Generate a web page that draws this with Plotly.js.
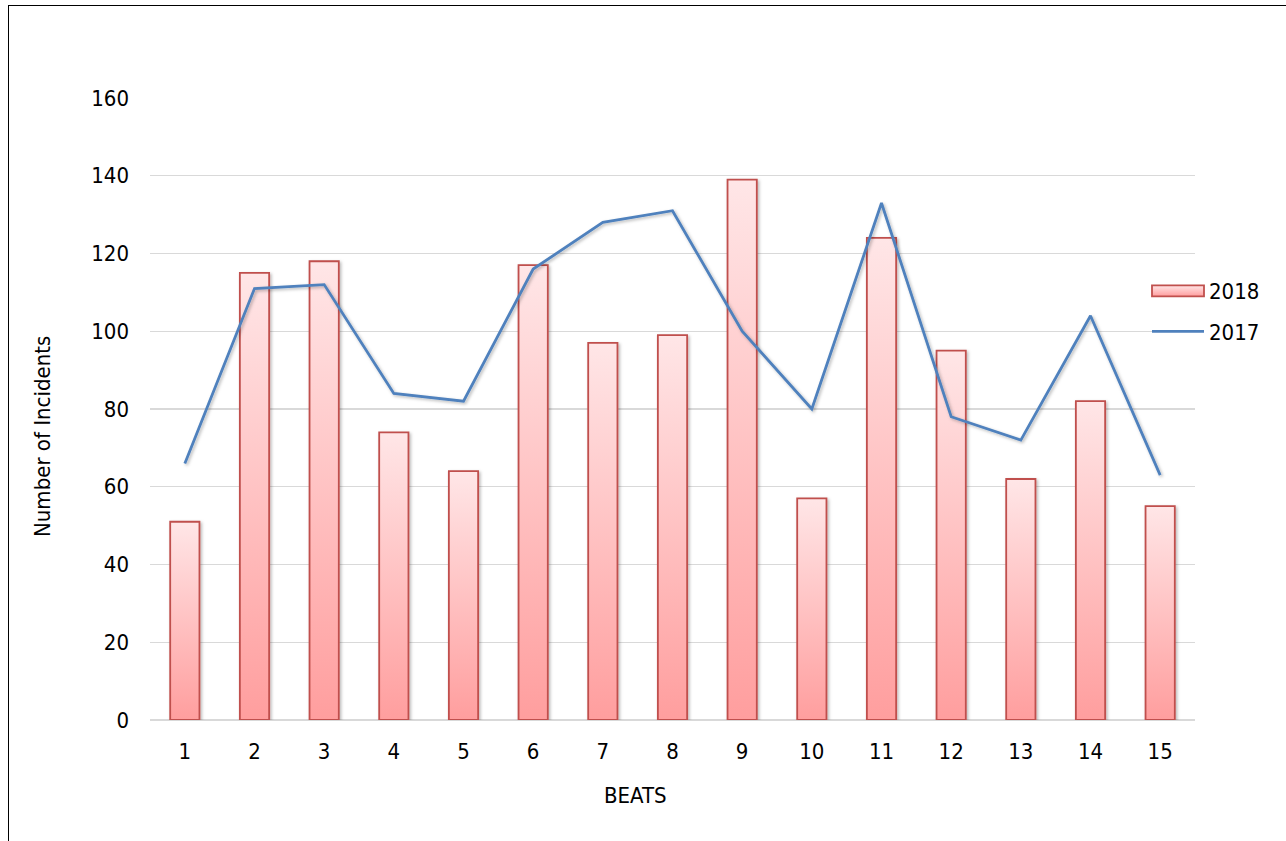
<!DOCTYPE html>
<html>
<head>
<meta charset="utf-8">
<script src="https://cdn.plot.ly/plotly-3.0.1.min.js"></script>
<style>
  html, body { margin: 0; padding: 0; background: #fff; overflow: hidden; }
  #wrap { position: relative; width: 1286px; height: 841px; }
  #chart { position: absolute; left: 0; top: 0; width: 1286px; height: 841px; }
  #frame { position: absolute; left: 8px; top: 5px; width: 1400px; height: 900px;
           border-left: 1.6px solid #000; border-top: 1.6px solid #000; pointer-events: none; }
</style>
</head>
<body>
<div id="wrap">
  <div id="chart"></div>
  <div id="frame"></div>
</div>
<script>
var beats = ['1','2','3','4','5','6','7','8','9','10','11','12','13','14','15'];
var incidents2018 = [51, 115, 118, 74, 64, 117, 97, 99, 139, 57, 124, 95, 62, 82, 55];
var incidents2017 = [66, 111, 112, 84, 82, 116, 128, 131, 100, 80, 133, 78, 72, 104, 63];
var yTicks = [0, 20, 40, 60, 80, 100, 120, 140, 160];

var FONT = '"DejaVu Sans Condensed", "DejaVu Sans", sans-serif';

var data = [
  {
    type: 'bar', name: '2018', x: beats, y: incidents2018,
    marker: { color: '#FFC4C4', line: { color: '#C0504D', width: 1.8 } },
    legendgroup: 'a', hoverinfo: 'none'
  },
  {
    type: 'scatter', mode: 'lines', name: '2017', x: beats, y: incidents2017,
    line: { color: '#4F81BD', width: 2.8 },
    legendgroup: 'b', hoverinfo: 'none'
  }
];

var PL = 150, PR = 1195, PT = 98, PB = 720;
function px2x(p) { return (p - PL) / (PR - PL); }
function px2y(p) { return (PB - p) / (PB - PT); }

var layout = {
  width: 1286, height: 841,
  margin: { l: PL, r: 1286 - PR, t: PT, b: 841 - PB, pad: 0 },
  paper_bgcolor: '#fff', plot_bgcolor: '#fff',
  font: { family: FONT, size: 22, color: '#000' },
  bargap: 0.58,
  showlegend: true,
  legend: {
    x: px2x(1147), xanchor: 'left', y: px2y(270), yanchor: 'top',
    bgcolor: 'rgba(0,0,0,0)', borderwidth: 0,
    font: { family: FONT, size: 22, color: '#000' },
    itemwidth: 52, tracegroupgap: 9, traceorder: 'grouped'
  },
  xaxis: {
    type: 'category', showgrid: false, showline: false, zeroline: false,
    ticks: '', ticklabelstandoff: 16,
    tickfont: { family: FONT, size: 22, color: '#000' }
  },
  yaxis: {
    range: [0, 160], tickvals: yTicks, ticktext: yTicks.map(String),
    showgrid: true, gridcolor: '#D9D9D9', gridwidth: 1.4,
    zeroline: true, zerolinecolor: '#D9D9D9', zerolinewidth: 1.4,
    showline: false, ticks: '', ticklabelstandoff: 20,
    tickfont: { family: FONT, size: 22, color: '#000' }
  },
  annotations: [
    { text: 'Number of Incidents', xref: 'paper', yref: 'paper',
      x: px2x(42), y: px2y(437), xanchor: 'center', yanchor: 'middle',
      textangle: -90, showarrow: false, font: { family: FONT, size: 22, color: '#000' } },
    { text: 'BEATS', xref: 'paper', yref: 'paper',
      x: px2x(635.5), y: px2y(795), xanchor: 'center', yanchor: 'middle',
      showarrow: false, font: { family: FONT, size: 22, color: '#000' } }
  ]
};

var gd = document.getElementById('chart');
Plotly.newPlot(gd, data, layout, { displayModeBar: false, staticPlot: true }).then(function () {
  var ns = 'http://www.w3.org/2000/svg';
  var svg = gd.querySelector('svg.main-svg');
  var defs = svg.querySelector('defs');
  if (!defs) { defs = document.createElementNS(ns, 'defs'); svg.insertBefore(defs, svg.firstChild); }
  var lg = document.createElementNS(ns, 'linearGradient');
  lg.setAttribute('id', 'barGrad');
  lg.setAttribute('x1', '0'); lg.setAttribute('y1', '0');
  lg.setAttribute('x2', '0'); lg.setAttribute('y2', '1');
  [['0', '#FFE6E7'], ['1', '#FF9E9E']].forEach(function (s) {
    var st = document.createElementNS(ns, 'stop');
    st.setAttribute('offset', s[0]); st.setAttribute('stop-color', s[1]);
    lg.appendChild(st);
  });
  defs.appendChild(lg);
  var f = document.createElementNS(ns, 'filter');
  f.setAttribute('id', 'shadow');
  f.setAttribute('x', '-30%'); f.setAttribute('y', '-10%');
  f.setAttribute('width', '160%'); f.setAttribute('height', '120%');
  var ds = document.createElementNS(ns, 'feDropShadow');
  ds.setAttribute('dx', '1.5'); ds.setAttribute('dy', '1.5');
  ds.setAttribute('stdDeviation', '1.5');
  ds.setAttribute('flood-color', '#000'); ds.setAttribute('flood-opacity', '0.28');
  f.appendChild(ds);
  defs.appendChild(f);

  gd.querySelectorAll('.barlayer .point path').forEach(function (p) {
    p.style.fill = 'url(#barGrad)';
    p.setAttribute('filter', 'url(#shadow)');
  });
  gd.querySelectorAll('.scatterlayer .js-line').forEach(function (p) {
    p.setAttribute('filter', 'url(#shadow)');
  });
  gd.querySelectorAll('.legend path.legendbar, .legend .legendpoints path').forEach(function (p) {
    if (p.classList.contains('js-line')) return;
    p.setAttribute('d', 'M26,5.5H-26V-5.5H26Z');
    p.style.fill = 'url(#barGrad)';
  });
});
</script>
</body>
</html>
